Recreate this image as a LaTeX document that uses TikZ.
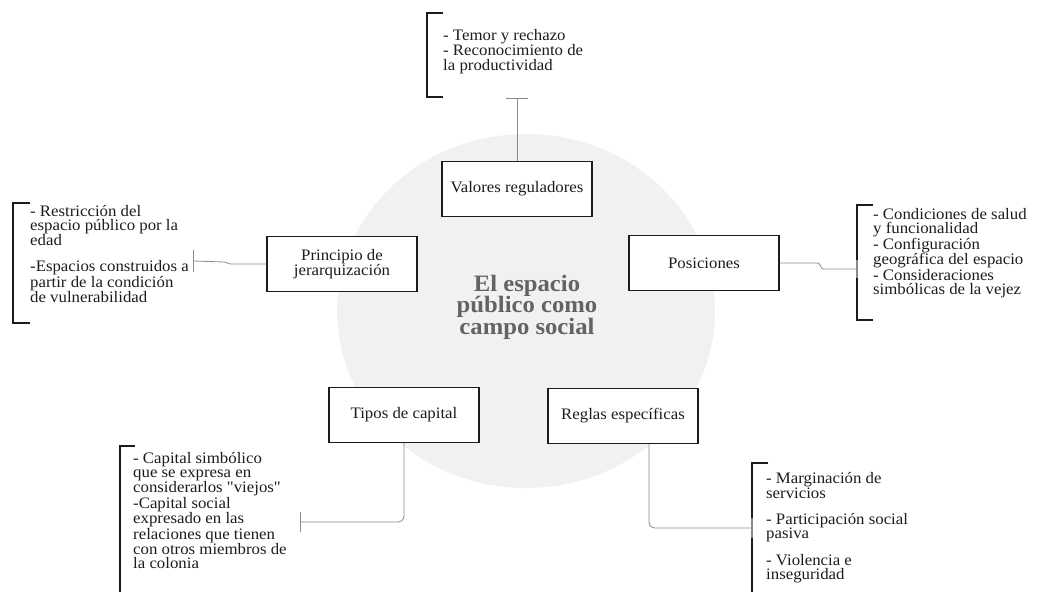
\documentclass[tikz,border=0pt]{standalone}
\usepackage{fontspec}
\setmainfont[FakeStretch=1.05]{Liberation Serif}
\usetikzlibrary{positioning}
\definecolor{fieldgray}{HTML}{F1F1F1}
\definecolor{titlegray}{HTML}{636363}
\definecolor{inkgray}{HTML}{1C1C1C}
\definecolor{linkgray}{HTML}{8A8A8A}
\newcommand{\plainqt}{{\addfontfeatures{Ligatures=TeXOff}"}}
\begin{document}
\begin{tikzpicture}[x=1pt,y=-1pt]
\tikzstyle{field} = [
 draw=inkgray,
 line width=1.2pt,
 fill=white,
 minimum width=150pt,
 minimum height=55pt,
 align=center,
 text=inkgray,
 font=\fontsize{16}{15}\selectfont
]
\tikzstyle{items} = [
 anchor=north west,
 inner sep=0pt,
 align=left,
 text=inkgray,
 font=\fontsize{16}{14}\selectfont
]
\tikzstyle{link} = [draw=linkgray, line width=0.8pt]
\tikzstyle{bracket} = [draw=inkgray, line width=1.6pt]

\useasboundingbox (0,0) rectangle (1037,592);
\fill[fieldgray] (526,311) ellipse [x radius=189, y radius=177];

\node[align=center, text=titlegray, font=\bfseries\fontsize{23.5}{21.5}\selectfont] at (527,307) (campo) {El espacio\\público como\\campo social};

% the five properties of the field
\node[field] at (517,189) (v) {Valores reguladores};
\node[field] at (342,264) (p) {Principio de\\jerarquización};
\node[field] at (704,263) (o) {Posiciones};
\node[field] at (404,415) (t) {Tipos de capital};
\node[field] at (623,416) (r) {Reglas específicas};

% what each one holds
\node[items, font=\fontsize{16}{14.5}\selectfont] at (443,29) (vl) {- Temor y rechazo\\- Reconocimiento de\\la productividad};
\node[items] at (30,205) (pl) {- Restricción del\\espacio público por la\\edad\\[12pt]-Espacios construidos a\\partir de la condición\\de vulnerabilidad};
\node[items] at (873,208) (ol) {- Condiciones de salud\\y funcionalidad\\- Configuración\\geográfica del espacio\\- Consideraciones\\simbólicas de la vejez};
\node[items] at (133,452) (tl) {- Capital simbólico\\que se expresa en\\considerarlos \plainqt viejos\plainqt\\-Capital social\\expresado en las\\relaciones que tienen\\con otros miembros de\\la colonia};
\node[items] at (766,472) (rl) {- Marginación de\\servicios\\[12pt]- Participación social\\pasiva\\[12pt]- Violencia e\\inseguridad};

\path[bracket] (443,13) -- (427,13) -- (427,97) -- (443,97);
\path[bracket] (30,203) -- (13,203) -- (13,323) -- (30,323);
\path[bracket] (873,205) -- (857,205) -- (857,320) -- (873,320);
\path[bracket] (135,446) -- (120,446) -- (120,600);
\path[bracket] (768,463) -- (752,463) -- (752,600);

% connectors
\coordinate (vt) at (517,98);
\coordinate (pt) at (193,261);
\coordinate (ot) at (857,269);
\coordinate (tt) at (300,522);
\coordinate (rt) at (752,528);

\path[link] (v.north) -- (vt);
\path[link] (vt) ++(-11,0) -- ++(22,0);
\path[link] (p.west) -- ++(-36,0) to[out=180,in=0] ++(-6,-2) -- (pt);
\path[link] (pt) ++(0,-11) -- ++(0,22);
\path[link] (o.east) -- ++(38,0) to[out=0,in=180] ++(6,6) -- (ot);
\path[link, line width=1.6pt] (ot) ++(0,-9) -- ++(0,18);
\path[link, rounded corners=6pt] (t.south) |- (tt);
\path[link] (tt) ++(0,-10) -- ++(0,20);
\path[link, rounded corners=6pt] ([xshift=26pt]r.south) |- (rt);
\path[link, line width=1.6pt] (rt) ++(0,-10) -- ++(0,20);
\end{tikzpicture}
\end{document}
